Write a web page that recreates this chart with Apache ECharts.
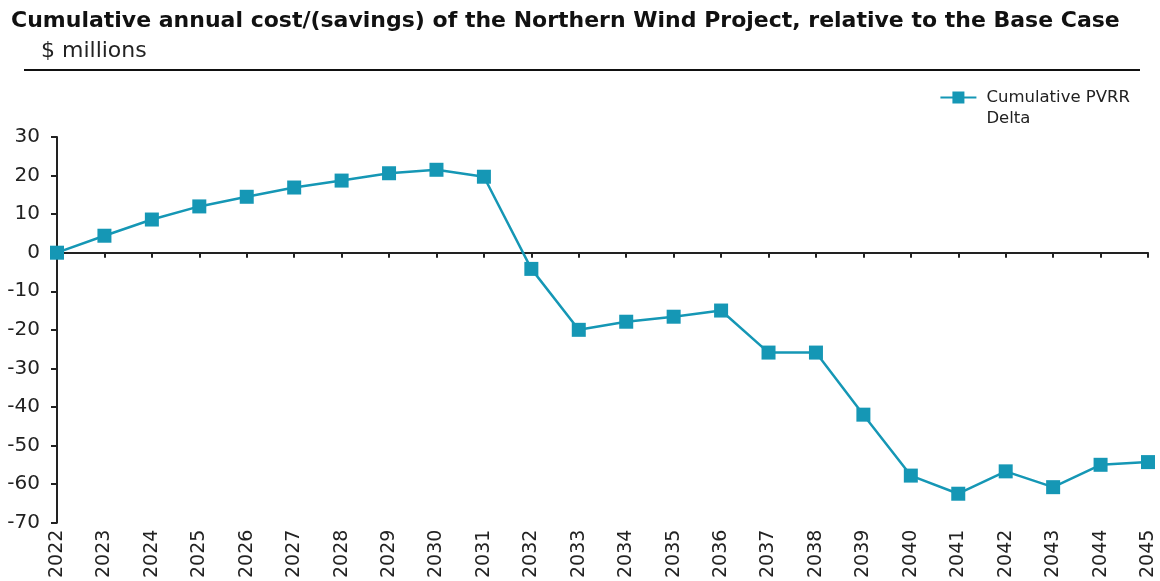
<!DOCTYPE html>
<html>
<head>
<meta charset="utf-8">
<script src="https://cdn.jsdelivr.net/npm/echarts@6/dist/echarts.min.js"></script>
<style>
  html, body { margin: 0; padding: 0; background: #fff; }
  #chart { width: 1160px; height: 581px; }
</style>
</head>
<body>
<div id="chart"></div>
<script>
// Chart data
const years = ['2022', '2023', '2024', '2025', '2026', '2027', '2028', '2029', '2030', '2031', '2032', '2033',
    '2034', '2035', '2036', '2037', '2038', '2039', '2040', '2041', '2042', '2043', '2044', '2045'];
const pvrrDelta = [0, 4.4, 8.6, 12.0, 14.5, 16.9, 18.7, 20.6, 21.5, 19.7, -4.2, -20.0,
    -17.9, -16.6, -15.0, -25.9, -25.9, -42.0, -57.8, -62.5, -56.7, -60.8, -55.0, -54.3];
const yTicks = [-70, -60, -50, -40, -30, -20, -10, 0, 10, 20, 30];

const LINE_COLOR = '#1597b5';
const FONT = 'DejaVu Sans, Liberation Sans, Arial, sans-serif';

const chart = echarts.init(document.getElementById('chart'));

const option = {
    backgroundColor: '#fff',
    animation: false,
    title: [
        {
            text: 'Cumulative annual cost/(savings) of the Northern Wind Project, relative to the Base Case',
            left: 6,
            top: 5,
            textStyle: { fontFamily: FONT, fontSize: 22, fontWeight: 'bold', color: '#111' }
        },
        {
            text: '$ millions',
            left: 36,
            top: 35,
            textStyle: { fontFamily: FONT, fontSize: 22, fontWeight: 'normal', color: '#222' }
        }
    ],
    graphic: [
        {
            type: 'line',
            shape: { x1: 24, y1: 70, x2: 1140, y2: 70 },
            style: { stroke: '#111', lineWidth: 2 }
        }
    ],
    legend: {
        right: 30,
        top: 66,
        padding: 0,
        itemWidth: 36,
        itemHeight: 15,
        textStyle: {
            fontFamily: FONT,
            fontSize: 16.5,
            color: '#222',
            lineHeight: 21,
            padding: [0, 0, 0, 5]
        },
        // leading blank line keeps the icon level with the first text line
        formatter: () => ' \nCumulative PVRR\nDelta',
        data: ['Cumulative PVRR Delta']
    },
    grid: { left: 57, right: 12, top: 137, bottom: 58, containLabel: false },
    xAxis: [
        {
            type: 'category',
            data: years,
            boundaryGap: false,
            axisLine: { onZero: true, lineStyle: { color: '#222', width: 2 } },
            axisTick: { show: true, inside: false, length: 5, lineStyle: { color: '#222', width: 2 } },
            axisLabel: { show: false },
            splitLine: { show: false }
        },
        {
            type: 'category',
            data: years,
            boundaryGap: false,
            position: 'bottom',
            axisLine: { show: false, onZero: false },
            axisTick: { show: false },
            axisLabel: {
                rotate: 90,
                margin: 7,
                fontFamily: FONT,
                fontSize: 19,
                color: '#222',
                interval: 0
            },
            splitLine: { show: false }
        }
    ],
    yAxis: {
        type: 'value',
        min: -70,
        max: 30,
        interval: 10,
        axisLine: { show: true, onZero: false, lineStyle: { color: '#222', width: 2 } },
        axisTick: { show: true, length: 6, lineStyle: { color: '#222', width: 2 } },
        axisLabel: {
            margin: 17,
            fontFamily: FONT,
            fontSize: 20,
            color: '#222',
            formatter: v => (yTicks.includes(v) ? String(v) : '')
        },
        splitLine: { show: false }
    },
    series: [
        {
            name: 'Cumulative PVRR Delta',
            type: 'line',
            xAxisIndex: 0,
            data: pvrrDelta,
            symbol: 'rect',
            symbolSize: 14,
            lineStyle: { color: LINE_COLOR, width: 2.5 },
            itemStyle: { color: LINE_COLOR }
        }
    ]
};

chart.setOption(option);
</script>
</body>
</html>
